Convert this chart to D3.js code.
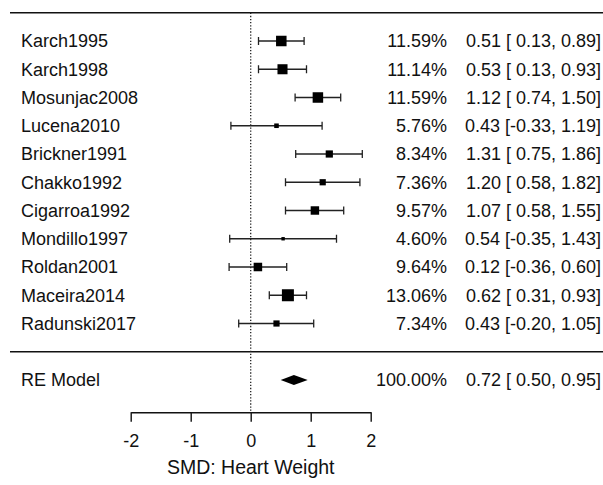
<!DOCTYPE html>
<html>
<head>
<meta charset="utf-8">
<script src="https://cdn.jsdelivr.net/npm/d3@7"></script>
<style>
  html, body { margin: 0; padding: 0; background: #fff; }
  svg { display: block; font-family: "Liberation Sans", Arial, sans-serif; }
  text { fill: #111; white-space: pre; }
</style>
</head>
<body>
<div id="chart"></div>
<script>
// forest plot: SMD heart weight, RE model
const studies = ["Karch1995", "Karch1998", "Mosunjac2008", "Lucena2010", "Brickner1991",
  "Chakko1992", "Cigarroa1992", "Mondillo1997", "Roldan2001", "Maceira2014", "Radunski2017"];
const weights = [11.59, 11.14, 11.59, 5.76, 8.34, 7.36, 9.57, 4.60, 9.64, 13.06, 7.34];
const estimates = [0.51, 0.53, 1.12, 0.43, 1.31, 1.20, 1.07, 0.54, 0.12, 0.62, 0.43];
const ciLower = [0.13, 0.13, 0.74, -0.33, 0.75, 0.58, 0.58, -0.35, -0.36, 0.31, -0.20];
const ciUpper = [0.89, 0.93, 1.50, 1.19, 1.86, 1.82, 1.55, 1.43, 0.60, 0.93, 1.05];

const modelLabel = "RE Model";
const modelWeight = 100.00;
const modelEst = 0.72;
const modelLower = 0.50;
const modelUpper = 0.95;

const xTicks = [-2, -1, 0, 1, 2];
const xLabel = "SMD: Heart Weight";

const width = 603, height = 485;
const svg = d3.select("#chart").append("svg")
  .attr("width", width).attr("height", height);

const k = studies.length;
const rows = studies.map((s, i) => ({
  name: s, row: k - i, w: weights[i], est: estimates[i], lo: ciLower[i], hi: ciUpper[i]
}));

// scales
const x = d3.scaleLinear().domain([-2, 2]).range([130.7, 370.7]);
const y = d3.scaleLinear().domain([k, -1]).range([41, 380]);
const size = d3.scaleLinear().domain([d3.min(weights), d3.max(weights)]).range([3.4, 12]);

const axisY = 412.3;
// plain hyphen for negatives, like R output
const locale = d3.formatLocale({ decimal: ".", thousands: ",", grouping: [3], currency: ["", ""], minus: "-" });
const fmt = locale.format(".2f");
const pad = v => (v < 0 ? "" : " ") + fmt(v);
const annot = (e, l, h) => `${fmt(e)} [${pad(l)}, ${fmt(h)}]`;

// top and separator lines
svg.selectAll("line.hr").data([k + 1, 0]).join("line")
  .attr("class", "hr")
  .attr("x1", 10).attr("x2", width)
  .attr("y1", d => y(d)).attr("y2", d => y(d))
  .attr("stroke", "#111").attr("stroke-width", 1.4);

// reference line at 0
svg.append("line")
  .attr("x1", x(0)).attr("x2", x(0))
  .attr("y1", y(k + 1)).attr("y2", axisY)
  .attr("stroke", "#222").attr("stroke-width", 1.3)
  .attr("stroke-dasharray", "1.3 1.8");

// CI lines
const g = svg.append("g");
g.selectAll("line.ci").data(rows).join("line")
  .attr("class", "ci")
  .attr("x1", d => x(d.lo)).attr("x2", d => x(d.hi))
  .attr("y1", d => y(d.row)).attr("y2", d => y(d.row))
  .attr("stroke", "#222").attr("stroke-width", 1.3);

const caps = rows.flatMap(d => [{ v: d.lo, row: d.row }, { v: d.hi, row: d.row }]);
g.selectAll("line.cap").data(caps).join("line")
  .attr("class", "cap")
  .attr("x1", d => x(d.v)).attr("x2", d => x(d.v))
  .attr("y1", d => y(d.row) - 4).attr("y2", d => y(d.row) + 4)
  .attr("stroke", "#222").attr("stroke-width", 1.3);

g.selectAll("rect.pt").data(rows).join("rect")
  .attr("class", "pt")
  .attr("x", d => x(d.est) - size(d.w) / 2)
  .attr("y", d => y(d.row) - size(d.w) / 2)
  .attr("width", d => size(d.w)).attr("height", d => size(d.w))
  .attr("fill", "#000");

// summary diamond
const dy = y(-1);
svg.append("polygon")
  .attr("points", [
    [x(modelLower), dy], [x(modelEst), dy - 5], [x(modelUpper), dy], [x(modelEst), dy + 5]
  ].map(p => p.join(",")).join(" "))
  .attr("fill", "#000");

// text columns
const fs = 18;
const allRows = rows.concat([{
  name: modelLabel, row: -1, w: modelWeight, est: modelEst, lo: modelLower, hi: modelUpper
}]);

svg.selectAll("text.name").data(allRows).join("text")
  .attr("class", "name")
  .attr("x", 21).attr("y", d => y(d.row)).attr("dy", "0.35em")
  .attr("font-size", fs)
  .text(d => d.name);

svg.selectAll("text.wt").data(allRows).join("text")
  .attr("class", "wt")
  .attr("x", 447).attr("y", d => y(d.row)).attr("dy", "0.35em")
  .attr("text-anchor", "end")
  .attr("font-size", fs)
  .text(d => fmt(d.w) + "%");

svg.selectAll("text.ci").data(allRows).join("text")
  .attr("class", "ci")
  .attr("x", 601).attr("y", d => y(d.row)).attr("dy", "0.35em")
  .attr("text-anchor", "end")
  .attr("font-size", fs)
  .text(d => annot(d.est, d.lo, d.hi));

// x axis
const axis = svg.append("g")
  .attr("transform", `translate(0,${axisY})`)
  .call(d3.axisBottom(x).tickValues(xTicks).tickSize(9.5).tickPadding(12).tickSizeOuter(0)
    .tickFormat(locale.format("d")));
axis.select(".domain").attr("stroke", "#111").attr("stroke-width", 1.4);
axis.selectAll(".tick line").attr("stroke", "#111").attr("stroke-width", 1.4);
axis.selectAll(".tick text")
  .attr("font-size", fs).attr("font-family", "Liberation Sans, Arial, sans-serif")
  .attr("fill", "#111");

svg.append("text")
  .attr("x", x(0)).attr("y", 474)
  .attr("text-anchor", "middle")
  .attr("font-size", 19.5)
  .text(xLabel);
</script>
</body>
</html>
